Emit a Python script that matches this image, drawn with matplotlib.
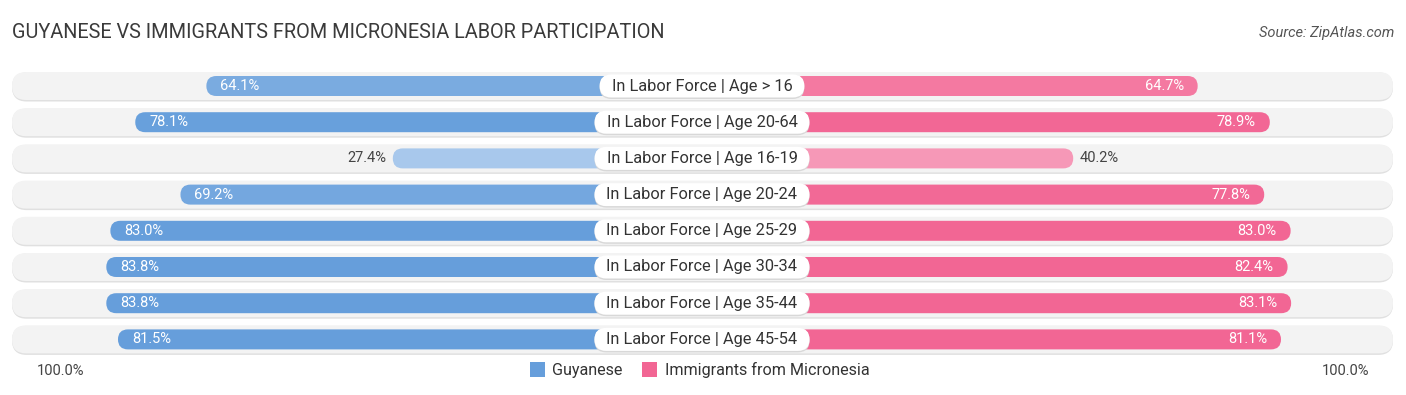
import matplotlib.pyplot as plt
from matplotlib.patches import FancyBboxPatch
import numpy as np

plt.rcParams['font.family'] = ['Roboto', 'DejaVu Sans']

categories = ['In Labor Force | Age > 16', 'In Labor Force | Age 20-64',
              'In Labor Force | Age 16-19', 'In Labor Force | Age 20-24',
              'In Labor Force | Age 25-29', 'In Labor Force | Age 30-34',
              'In Labor Force | Age 35-44', 'In Labor Force | Age 45-54']
guyanese = [64.1, 78.1, 27.4, 69.2, 83.0, 83.8, 83.8, 81.5]
micronesia = [64.7, 78.9, 40.2, 77.8, 83.0, 82.4, 83.1, 81.1]

title = 'GUYANESE VS IMMIGRANTS FROM MICRONESIA LABOR PARTICIPATION'
source = 'Source: ZipAtlas.com'

W, H = 1406, 395
fig = plt.figure(figsize=(W / 100, H / 100), dpi=100)
ax = fig.add_axes([0, 0, 1, 1])
ax.set_xlim(0, W)
ax.set_ylim(H, 0)
ax.axis('off')
renderer = fig.canvas.get_renderer()

center = 702
left_zero, right_zero = 532, 869   # where 0% sits on each side
scale = 5.08                       # px per percent
row0, step = 86, 36.2
bar_h, track_h = 20, 29

blue_dark, blue_light = np.array([0.40, 0.62, 0.86]), np.array([0.67, 0.79, 0.93])
pink_dark, pink_light = np.array([0.95, 0.40, 0.58]), np.array([0.97, 0.67, 0.77])


def shade(dark, light, v):
    t = np.clip((v - 25) / (80 - 25), 0, 1)
    return light + (dark - light) * t


def rbox(x0, x1, yc, h, color, z, ec='none', lw=0):
    p = FancyBboxPatch((x0, yc - h / 2), x1 - x0, h,
                       boxstyle=f'round,pad=0,rounding_size={h / 2}',
                       fc=color, ec=ec, lw=lw, zorder=z)
    ax.add_patch(p)


for i, cat in enumerate(categories):
    y = row0 + i * step
    # track with faint shadow
    rbox(12, 1393, y + 1, track_h, '#e0e0e0', 1)
    rbox(12, 1393, y, track_h - 1, '#f3f3f3', 1.5)

    g, m = guyanese[i], micronesia[i]
    gx = left_zero - g * scale
    mx = right_zero + m * scale
    rbox(gx, center, y, bar_h, shade(blue_dark, blue_light, g), 2)
    rbox(center, mx, y, bar_h, shade(pink_dark, pink_light, m), 2)

    if g > 50:
        ax.text(gx + 14, y, f'{g:.1f}%', color='white', fontsize=10.5,
                ha='left', va='center', zorder=4)
    else:
        ax.text(gx - 6, y, f'{g:.1f}%', color='#444444', fontsize=10.5,
                ha='right', va='center', zorder=4)
    if m > 50:
        ax.text(mx - 14, y, f'{m:.1f}%', color='white', fontsize=10.5,
                ha='right', va='center', zorder=4)
    else:
        ax.text(mx + 6, y, f'{m:.1f}%', color='#444444', fontsize=10.5,
                ha='left', va='center', zorder=4)

    t = ax.text(center, y, cat, fontsize=11.8, color='#333333', ha='center',
                va='center', zorder=6)
    tw = t.get_window_extent(renderer).width
    rbox(center - tw / 2 - 12, center + tw / 2 + 12, y + 1, 24, '#d8d8d8', 4.5)
    rbox(center - tw / 2 - 12, center + tw / 2 + 12, y, 23, 'white', 5)

ax.text(12, 33, title, fontsize=14.3, color='#3a3a3a', ha='left', va='center')
ax.text(1394, 33, source, fontsize=10.5, color='#555555', ha='right',
        va='center', style='italic')

ax.text(37, 371, '100.0%', fontsize=10.5, color='#444444', ha='left', va='center')
ax.text(1369, 371, '100.0%', fontsize=10.5, color='#444444', ha='right', va='center')

# legend
ax.add_patch(plt.Rectangle((530, 362), 15, 15, fc=blue_dark, zorder=3))
ax.text(552, 370, 'Guyanese', fontsize=11.6, color='#333333', ha='left', va='center')
ax.add_patch(plt.Rectangle((642, 362), 15, 15, fc=pink_dark, zorder=3))
ax.text(665, 370, 'Immigrants from Micronesia', fontsize=11.6, color='#333333',
        ha='left', va='center')

fig.savefig('out.png', dpi=100)
